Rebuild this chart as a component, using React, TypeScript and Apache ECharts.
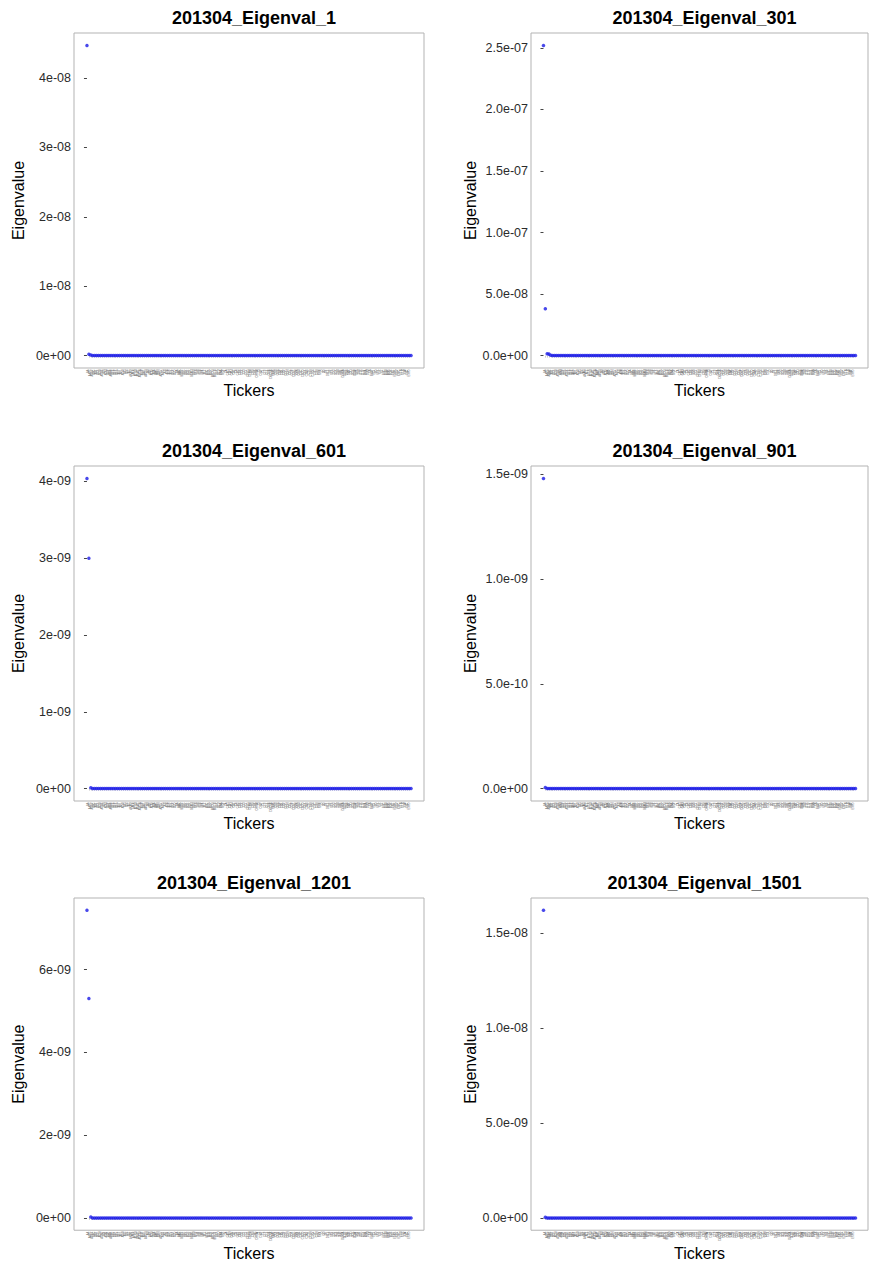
import React, { useEffect, useRef } from 'react';
import * as echarts from 'echarts';

// Ticker names on the x axis (tiny, unreadable in reference)
const TICKERS = [
  'A', 'AA', 'AAPL', 'ABBV', 'ABC', 'ABT', 'ACE', 'ACN', 'ADBE', 'ADI',
  'ADM', 'ADP', 'ADS', 'ADSK', 'AEE', 'AEP', 'AES', 'AET', 'AFL', 'AGN',
  'AIG', 'AIV', 'AIZ', 'AKAM', 'ALL', 'ALTR', 'ALXN', 'AMAT', 'AMGN', 'AMP',
  'AMT', 'AMZN', 'AN', 'ANF', 'AON', 'APA', 'APC', 'APD', 'APH', 'APOL',
  'ARG', 'ATI', 'AVB', 'AVP', 'AVY', 'AXP', 'AZO', 'BA', 'BAC', 'BAX',
  'BBBY', 'BBT', 'BBY', 'BCR', 'BDX', 'BEAM', 'BEN', 'BF.B', 'BHI', 'BIIB',
  'BK', 'BLK', 'BLL', 'BMC', 'BMS', 'BMY', 'BRCM', 'BRK.B', 'BSX', 'BTU',
  'BWA', 'BXP', 'C', 'CA', 'CAG', 'CAH', 'CAM', 'CAT', 'CB', 'CBG',
  'CBS', 'CCE', 'CCI', 'CCL', 'CELG', 'CERN', 'CF', 'CFN', 'CHK', 'CHRW',
  'CI', 'CINF', 'CL', 'CLF', 'CLX', 'CMA', 'CMCSA', 'CME', 'CMG', 'CMI',
  'CMS', 'CNP', 'CNX', 'COF', 'COG', 'COH', 'COL', 'COP', 'COST', 'COV',
  'CPB', 'CRM', 'CSC', 'CSCO', 'CSX', 'CTAS', 'CTL', 'CTSH', 'CTXS', 'CVC',
  'CVH', 'CVS', 'CVX', 'D', 'DD', 'DE', 'DELL', 'DF', 'DFS', 'DG',
  'DGX', 'DHI', 'DHR', 'DIS', 'DISCA', 'DLTR', 'DNB', 'DNR', 'DO', 'DOV',
  'DOW', 'DPS', 'DRI', 'DTE', 'DTV', 'DUK', 'DVA', 'DVN', 'EA', 'EBAY',
  'ECL', 'ED', 'EFX', 'EIX', 'EL', 'EMC', 'EMN', 'EMR', 'EOG', 'EQR',
  'EQT', 'ESRX', 'ESV', 'ETFC', 'ETN', 'ETR', 'EW', 'EXC', 'EXPD', 'EXPE',
];

const TITLES = [
  '201304_Eigenval_1',
  '201304_Eigenval_301',
  '201304_Eigenval_601',
  '201304_Eigenval_901',
  '201304_Eigenval_1201',
  '201304_Eigenval_1501',
];

// Leading (largest) eigenvalues of each panel; all remaining tickers sit at ~0
const LEAD_1 = [4.47e-8, 2e-10, 1e-10];
const LEAD_301 = [2.52e-7, 3.8e-8, 1.5e-9, 1.2e-9, 3e-10];
const LEAD_601 = [4.04e-9, 3.0e-9, 1e-11];
const LEAD_901 = [1.48e-9, 5e-12];
const LEAD_1201 = [7.43e-9, 5.3e-9, 2e-11];
const LEAD_1501 = [1.62e-8, 3e-11];
const REST_VALUE = 0;

// Y tick labels
const YTICKS_1 = [0, 1e-8, 2e-8, 3e-8, 4e-8];
const YTICKS_301 = [0, 5e-8, 1e-7, 1.5e-7, 2e-7, 2.5e-7];
const YTICKS_601 = [0, 1e-9, 2e-9, 3e-9, 4e-9];
const YTICKS_901 = [0, 5e-10, 1e-9, 1.5e-9];
const YTICKS_1201 = [0, 2e-9, 4e-9, 6e-9];
const YTICKS_1501 = [0, 5e-9, 1e-8, 1.5e-8];
const YDIGITS = [0, 1, 0, 1, 0, 1];

const LEADS = [LEAD_1, LEAD_301, LEAD_601, LEAD_901, LEAD_1201, LEAD_1501];
const YTICKS = [YTICKS_1, YTICKS_301, YTICKS_601, YTICKS_901, YTICKS_1201, YTICKS_1501];

const COL_LEFT = [74, 531];
const COL_WIDTH = [350, 337];
const ROW_TOP = [33, 466, 898];
const PANEL_H = 335;
const EXPAND = 0.04;
const FONT = '"Liberation Sans", Arial, Helvetica, sans-serif';

function sci(v: number, d: number): string {
  const s = v.toExponential(d);
  const m = s.match(/^(-?[\d.]+)e([+-])(\d+)$/);
  if (!m) return s;
  const exp = m[3].length < 2 ? '0' + m[3] : m[3];
  return `${m[1]}e${m[2]}${exp}`;
}

function buildOption() {
  const n = TICKERS.length;
  const xPad = EXPAND * (n - 1);
  const idx = TICKERS.map((_, i) => i);
  const grids: any[] = [];
  const xAxes: any[] = [];
  const yAxes: any[] = [];
  const series: any[] = [];
  const titles: any[] = [];

  LEADS.forEach((lead, p) => {
    const col = p % 2;
    const row = Math.floor(p / 2);
    const left = COL_LEFT[col];
    const width = COL_WIDTH[col];
    const top = ROW_TOP[row];
    const values = TICKERS.map((_, i) => (i < lead.length ? lead[i] : REST_VALUE));
    const vmax = Math.max(...values);
    const vmin = Math.min(...values);
    const range = vmax - vmin;

    grids.push({
      left,
      top,
      width,
      height: PANEL_H,
      show: true,
      borderColor: '#b3b3b3',
      borderWidth: 1,
      backgroundColor: '#ffffff',
    });

    titles.push({
      text: TITLES[p],
      left: left + width / 2,
      top: top - 29,
      textAlign: 'center',
      textStyle: { fontFamily: FONT, fontSize: 18, fontWeight: 'bold', color: '#000' },
    });

    xAxes.push({
      type: 'value',
      gridIndex: p,
      min: -xPad,
      max: n - 1 + xPad,
      name: 'Tickers',
      nameLocation: 'middle',
      nameGap: 9,
      nameTextStyle: { fontFamily: FONT, fontSize: 16, color: '#000' },
      axisLine: { show: false },
      splitLine: { show: false },
      axisTick: {
        show: true,
        customValues: idx,
        length: 2,
        lineStyle: { color: '#999999', width: 0.5 },
      },
      axisLabel: {
        show: true,
        customValues: idx,
        rotate: 90,
        fontSize: 2.6,
        color: '#666666',
        margin: 1.5,
        fontFamily: FONT,
        formatter: (v: number) => TICKERS[Math.round(v)] ?? '',
      },
    });

    const ticks = YTICKS[p];
    const digits = YDIGITS[p];
    yAxes.push({
      type: 'value',
      gridIndex: p,
      min: vmin - EXPAND * range,
      max: vmax + EXPAND * range,
      name: 'Eigenvalue',
      nameLocation: 'middle',
      nameGap: col === 0 ? 48 : 51,
      nameTextStyle: { fontFamily: FONT, fontSize: 16, color: '#000' },
      axisLine: { show: false },
      splitLine: { show: false },
      axisTick: {
        show: true,
        customValues: ticks,
        length: 3,
        lineStyle: { color: '#444444', width: 1 },
      },
      axisLabel: {
        show: true,
        customValues: ticks,
        fontSize: 12.5,
        color: '#2b2b2b',
        margin: 3,
        fontFamily: FONT,
        formatter: (v: number) => sci(v, digits),
      },
    });

    series.push({
      type: 'scatter',
      xAxisIndex: p,
      yAxisIndex: p,
      symbol: 'circle',
      symbolSize: 3.5,
      itemStyle: { color: '#1a1ae6' },
      data: values.map((v, i) => [i, v]),
    });
  });

  return {
    animation: false,
    backgroundColor: '#ffffff',
    title: titles,
    grid: grids,
    xAxis: xAxes,
    yAxis: yAxes,
    series,
  };
}

export default function App() {
  const ref = useRef<HTMLDivElement>(null);
  useEffect(() => {
    if (!ref.current) return;
    const chart = echarts.init(ref.current, null, { renderer: 'svg' });
    chart.setOption(buildOption() as any);
    return () => chart.dispose();
  }, []);
  return (
    <div
      ref={ref}
      style={{ position: 'absolute', left: 0, top: 0, width: 870, height: 1262, background: '#fff' }}
    />
  );
}
